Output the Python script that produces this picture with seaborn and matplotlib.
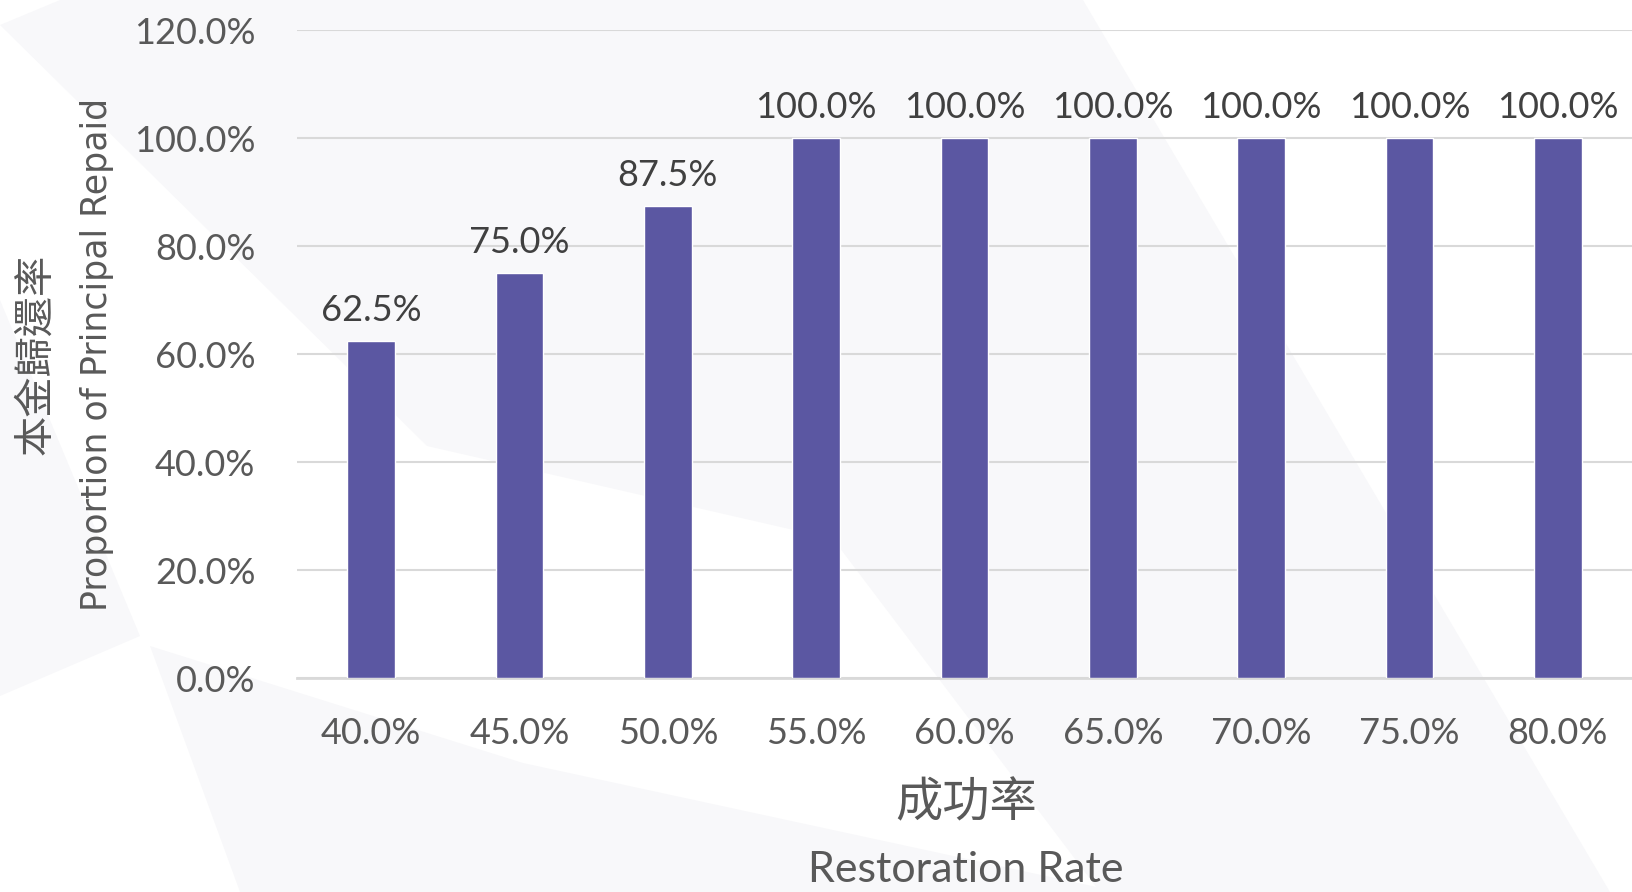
import matplotlib
matplotlib.use("Agg")
import matplotlib.pyplot as plt
import seaborn as sns
from matplotlib.patches import Polygon
from matplotlib.ticker import PercentFormatter

# data
success_rates = ["40.0%", "45.0%", "50.0%", "55.0%", "60.0%", "65.0%", "70.0%", "75.0%", "80.0%"]
repaid_share = [0.625, 0.75, 0.875, 1.0, 1.0, 1.0, 1.0, 1.0, 1.0]
y_ticks = [0.0, 0.2, 0.4, 0.6, 0.8, 1.0, 1.2]

BAR_COLOR = "#5b57a2"
TEXT_COLOR = "#595959"
GRID_COLOR = "#d9d9d9"
NUM_FONT = ["Lato", "Noto Sans CJK TC", "DejaVu Sans"]
CJK_FONT = ["Noto Sans CJK TC", "DejaVu Sans"]

sns.set_theme(style="white")
plt.rcParams["font.family"] = NUM_FONT

W, H = 1632, 892
fig = plt.figure(figsize=(W / 100, H / 100), dpi=100)
fig.patch.set_facecolor("white")

# faint decorative background shapes (pixel coords, y from top)
shapes = [
    [(0, 25), (60, 0), (1083, 0), (1610, 892), (1100, 892), (833, 539), (427, 446)],
    [(0, 300), (140, 636), (0, 696)],
    [(150, 646), (240, 892), (1120, 892), (523, 763)],
]
for pts in shapes:
    fig.patches.append(Polygon([(x / W, 1 - y / H) for x, y in pts], closed=True,
                               transform=fig.transFigure, facecolor="#f8f8fa",
                               edgecolor="none", zorder=-5))

ax = fig.add_axes([297 / W, 1 - 678 / H, 1 - 297 / W, (678 - 30) / H])
ax.set_facecolor("none")
ax.set_zorder(2)

sns.barplot(x=success_rates, y=repaid_share, color=BAR_COLOR, width=0.32,
            saturation=1, ax=ax, zorder=3)

ax.set_ylim(0, 1.2)
ax.set_xlim(-0.5, len(success_rates) - 0.5)
ax.set_yticks(y_ticks)
ax.yaxis.set_major_formatter(PercentFormatter(1.0, decimals=1))
ax.grid(axis="y", color=GRID_COLOR, linewidth=1.5, zorder=0)
ax.set_axisbelow(True)
for side in ["top", "right", "left"]:
    ax.spines[side].set_visible(False)
ax.spines["bottom"].set_color(GRID_COLOR)
ax.spines["bottom"].set_linewidth(2)

ax.tick_params(axis="both", length=0, labelsize=26, labelcolor=TEXT_COLOR)
ax.tick_params(axis="x", pad=28)
ax.tick_params(axis="y", pad=30)
ax.set_xlabel("")
ax.set_ylabel("")

ax.bar_label(ax.containers[0], labels=[f"{v:.1%}" for v in repaid_share],
             padding=10, fontsize=26, color="#404040")

# axis titles, Chinese over English
fig.text(36 / W, 1 - 354 / H, "本金歸還率", rotation=90, ha="center", va="center",
         fontsize=29, color=TEXT_COLOR, family=CJK_FONT)
fig.text(97 / W, 1 - 354 / H, "Proportion of Principal Repaid", rotation=90,
         ha="center", va="center", fontsize=25, color=TEXT_COLOR, family=["DejaVu Sans"])
fig.text(966 / W, 1 - 803 / H, "成功率", ha="center", va="center",
         fontsize=34, color=TEXT_COLOR, family=CJK_FONT)
fig.text(966 / W, 1 - 870 / H, "Restoration Rate", ha="center", va="center",
         fontsize=31, color=TEXT_COLOR, family=NUM_FONT)

fig.savefig("out.png", dpi=100, facecolor=fig.get_facecolor())
